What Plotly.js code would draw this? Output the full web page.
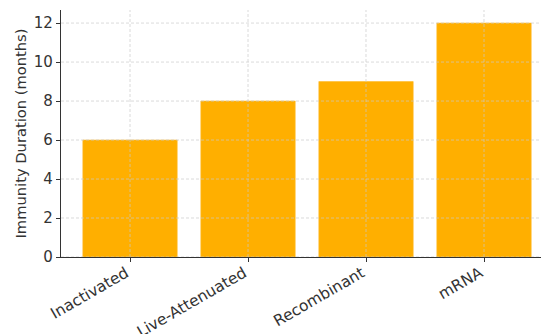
<!DOCTYPE html>
<html><head><meta charset="utf-8">
<script src="https://cdn.plot.ly/plotly-3.0.1.min.js"></script>
<style>html,body{margin:0;padding:0;overflow:hidden;background:#fff}</style>
</head><body><div id="chart" style="width:541px;height:334px"></div>
<script>
const categories = ["Inactivated", "Live-Attenuated", "Recombinant", "mRNA"];
const durations = [6, 8, 9, 12];
const yTicks = [0, 2, 4, 6, 8, 10, 12];

const gridLine = {color:'rgba(200,200,200,0.85)', width:0.8, dash:'3px,2px'};
const gridShapes = [];
yTicks.forEach(v => gridShapes.push({type:'line', xref:'paper', x0:0, x1:1, yref:'y', y0:v, y1:v,
  line:gridLine, layer:'above'}));
categories.forEach(c => gridShapes.push({type:'line', xref:'x', x0:c, x1:c, yref:'paper', y0:0, y1:1,
  line:gridLine, layer:'above'}));

Plotly.newPlot('chart', [{
  type:'bar', x:categories, y:durations, width:0.8,
  marker:{color:'#FFAF00', line:{color:'#FFBA2A', width:0.6}},
  hoverinfo:'none'
}], {
  width:541, height:334,
  margin:{l:61, r:0, t:10, b:77},
  paper_bgcolor:'#fff', plot_bgcolor:'#fff',
  font:{family:'DejaVu Sans', size:14, color:'#333'},
  showlegend:false,
  shapes:gridShapes,
  xaxis:{type:'category', range:[-0.585, 3.483], showgrid:false, zeroline:false,
    showline:true, linecolor:'#333', linewidth:1.2, ticks:'outside', ticklen:4, tickcolor:'#333',
    tickangle:-30, tickfont:{size:15.5, color:'#333'}, ticklabelshift:-4, ticklabelstandoff:-4},
  yaxis:{range:[0, 12.67], tickvals:yTicks, showgrid:false, zeroline:false,
    showline:true, linecolor:'#333', linewidth:1.2, ticks:'outside', ticklen:4, tickcolor:'#333',
    tickfont:{size:15, color:'#333'},
    title:{text:'Immunity Duration (months)', font:{size:14.7, color:'#333'}, standoff:3}}
}, {staticPlot:true});
</script></body></html>
